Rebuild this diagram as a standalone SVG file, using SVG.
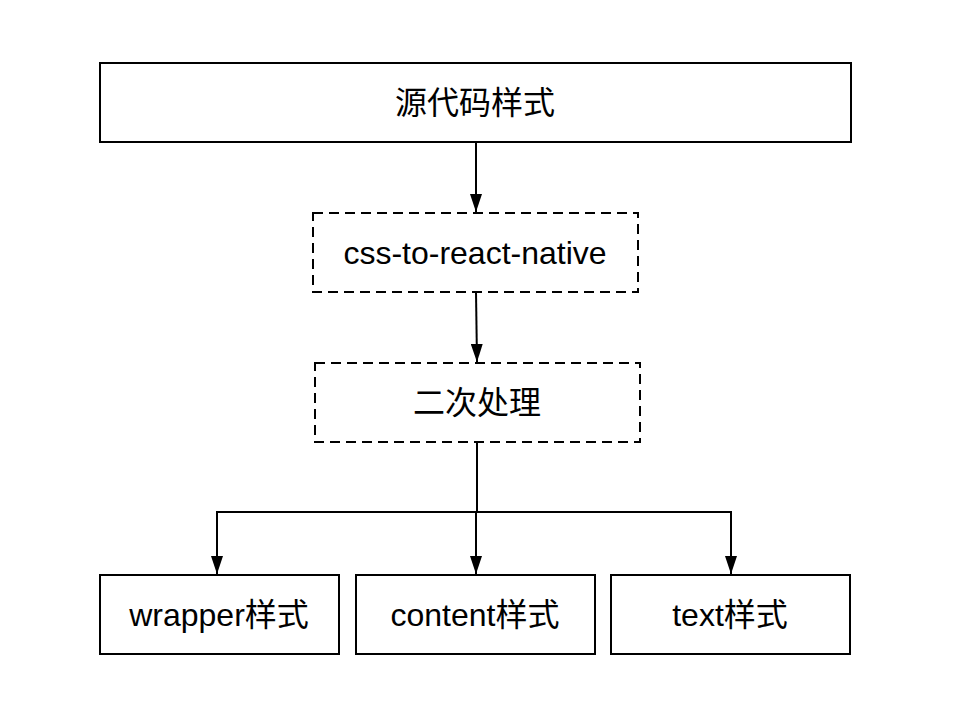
<svg xmlns="http://www.w3.org/2000/svg" width="958" height="718" viewBox="0 0 958 718">
<style>
.box{fill:#fff;stroke:#000;stroke-width:2}
.dash{stroke-dasharray:10 6}
.lbl{font-family:"Liberation Sans","Noto Sans CJK SC",sans-serif;font-size:32px;fill:#000;text-anchor:middle;dominant-baseline:central}
.ln{fill:none;stroke:#000;stroke-width:2}
</style>
<defs>
<marker id="arr" viewBox="0 0 18 12" refX="18" refY="6" markerWidth="18" markerHeight="12" orient="auto" markerUnits="userSpaceOnUse">
<path d="M0,0 L18,6 L0,12 Z" fill="#000"/>
</marker>
</defs>
<rect width="958" height="718" fill="#fff"/>
<g id="connectors">
<line class="ln" x1="476" y1="142" x2="476" y2="212" marker-end="url(#arr)"/>
<line class="ln" x1="476" y1="292" x2="477" y2="362" marker-end="url(#arr)"/>
<polyline class="ln" points="477,442 477,512 476,512 476,574" marker-end="url(#arr)"/>
<polyline class="ln" points="477,512 217,512 217,574" marker-end="url(#arr)"/>
<polyline class="ln" points="477,512 731,512 731,574" marker-end="url(#arr)"/>
</g>
<g id="source">
<rect class="box" x="100" y="63" width="751" height="79"/>
<text class="lbl" x="475" y="103">源代码样式</text>
</g>
<g id="css2rn">
<rect class="box dash" x="313" y="213" width="325" height="79"/>
<text class="lbl" x="475" y="253">css-to-react-native</text>
</g>
<g id="second">
<rect class="box dash" x="315" y="363" width="325" height="79"/>
<text class="lbl" x="477" y="403">二次处理</text>
</g>
<g id="wrapper">
<rect class="box" x="100" y="575" width="239" height="79"/>
<text class="lbl" x="219" y="615">wrapper样式</text>
</g>
<g id="content">
<rect class="box" x="356" y="575" width="239" height="79"/>
<text class="lbl" x="475" y="615">content样式</text>
</g>
<g id="text">
<rect class="box" x="611" y="575" width="239" height="79"/>
<text class="lbl" x="730" y="615">text样式</text>
</g>
</svg>
